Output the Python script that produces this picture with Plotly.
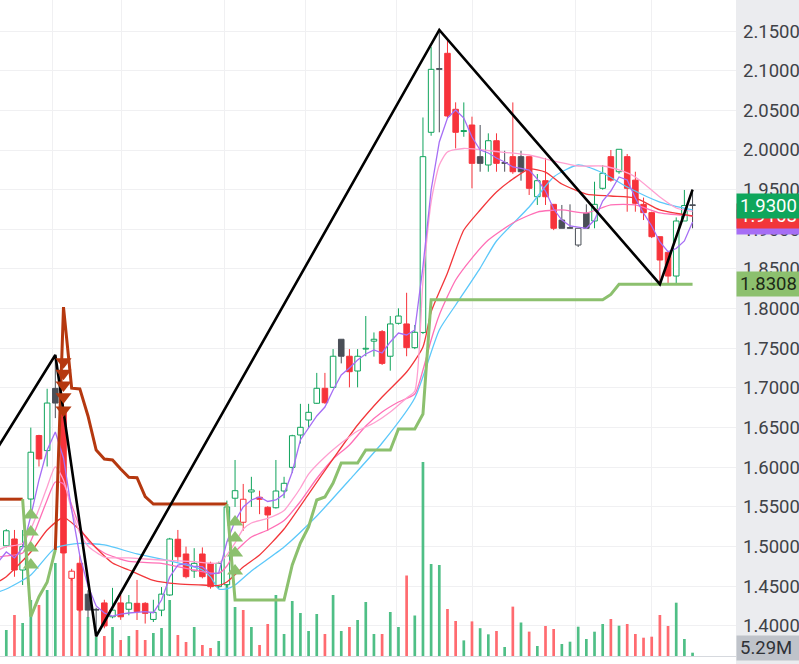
import plotly.graph_objects as go

# ---------------- data ----------------
opens = [1.501, 1.5096, 1.4705, 1.560, 1.640, 1.621, 1.6995, 1.672, 1.460, 1.479,
         1.440, 1.420, 1.429, 1.4115, 1.429, 1.421, 1.4285, 1.4285, 1.4082, 1.4199,
         1.439, 1.5093, 1.4907, 1.4693, 1.4907, 1.4789, 1.4495, 1.452, 1.561, 1.5307,
         1.5689, 1.5622, 1.5496, 1.549, 1.5701, 1.5999, 1.6407, 1.6596, 1.6807, 1.6996,
         1.7008, 1.7614, 1.740, 1.7214, 1.749, 1.759, 1.771, 1.740, 1.7815, 1.7807,
         1.7508, 1.770, 2.0223, 2.1017, 2.1219, 2.0513, 2.0233, 2.0315, 1.9916, 1.9811,
         2.0117, 1.9832, 1.9916, 1.9916, 1.9916, 1.9411, 1.9613, 1.9315, 1.9117, 1.9013,
         1.8802, 1.9202, 1.9105, 1.9517, 1.9916, 1.9726, 1.9916, 1.962, 1.9315, 1.921,
         1.8907, 1.871, 1.8411, 1.9105, 1.9300]
highs = [1.522, 1.521, 1.521, 1.650, 1.641, 1.699, 1.7416, 1.690, 1.472, 1.489,
         1.445, 1.423, 1.433, 1.448, 1.439, 1.439, 1.458, 1.430, 1.433, 1.449,
         1.511, 1.521, 1.500, 1.498, 1.499, 1.481, 1.481, 1.558, 1.6092, 1.579,
         1.588, 1.5705, 1.551, 1.6092, 1.588, 1.641, 1.680, 1.680, 1.719, 1.719,
         1.749, 1.7614, 1.749, 1.749, 1.7907, 1.770, 1.773, 1.7907, 1.8004, 1.820,
         1.7794, 2.041, 2.130, 2.1513, 2.1387, 2.0601, 2.060, 2.042, 2.0315, 2.021,
         2.021, 1.999, 2.060, 1.999, 1.9916, 1.9697, 1.990, 1.9315, 1.9307, 1.9315,
         1.9013, 1.9315, 1.960, 1.981, 2.000, 2.0009, 1.995, 1.9726, 1.940, 1.9222,
         1.8907, 1.871, 1.915, 1.9496, 1.950]
lows = [1.499, 1.462, 1.4516, 1.546, 1.601, 1.601, 1.662, 1.492, 1.457, 1.418,
        1.411, 1.387, 1.397, 1.4096, 1.4077, 1.4134, 1.4075, 1.403, 1.405, 1.4123,
        1.438, 1.481, 1.460, 1.4605, 1.460, 1.447, 1.447, 1.449, 1.550, 1.520,
        1.550, 1.5409, 1.520, 1.548, 1.561, 1.593, 1.630, 1.650, 1.680, 1.680,
        1.700, 1.731, 1.7008, 1.7008, 1.740, 1.7395, 1.729, 1.7218, 1.780, 1.740,
        1.749, 1.768, 2.018, 2.0223, 2.040, 2.002, 2.0167, 1.9517, 1.9726, 1.9726,
        1.9726, 1.9726, 1.970, 1.9613, 1.9433, 1.9307, 1.9307, 1.899, 1.9013, 1.9013,
        1.8777, 1.9013, 1.9013, 1.950, 1.960, 1.970, 1.9222, 1.9222, 1.9117, 1.889,
        1.8308, 1.832, 1.832, 1.9105, 1.9013]
closes = [1.520, 1.4705, 1.500, 1.619, 1.6105, 1.681, 1.681, 1.492, 1.469, 1.420,
          1.420, 1.420, 1.400, 1.4199, 1.4115, 1.429, 1.4181, 1.4159, 1.4172, 1.4401,
          1.5096, 1.4873, 1.4621, 1.4789, 1.4621, 1.4495, 1.4789, 1.550, 1.5705, 1.5597,
          1.5714, 1.5597, 1.5399, 1.5701, 1.5798, 1.6398, 1.6504, 1.6693, 1.6996, 1.6814,
          1.740, 1.740, 1.7205, 1.740, 1.750, 1.7614, 1.731, 1.7807, 1.7907, 1.7508,
          1.7702, 1.9916, 2.1017, 2.1017, 2.0429, 2.0223, 2.0245, 1.9832, 1.9832, 2.0117,
          1.9832, 1.9832, 1.9726, 1.9726, 1.9517, 1.9613, 1.9411, 1.9013, 1.9013, 1.9013,
          1.9013, 1.9013, 1.9315, 1.9706, 1.962, 2.0009, 1.9517, 1.9328, 1.921, 1.8907,
          1.8613, 1.8411, 1.9105, 1.9300, 1.9300]
volumes_m = [41.6, 65.6, 52.8, 89.6, 81.6, 105.6, 148.8, 228.8, 128.0, 97.6,
             62.4, 30.4, 32.0, 46.4, 25.6, 32.0, 41.6, 25.6, 36.8, 44.8,
             89.6, 33.6, 22.4, 46.4, 17.6, 12.8, 24.0, 118.4, 78.4, 73.6,
             46.4, 17.6, 51.2, 97.6, 35.2, 88.0, 68.8, 40.0, 67.2, 35.2,
             97.6, 40.0, 46.4, 57.6, 86.4, 35.2, 35.2, 70.4, 46.4, 128.8,
             64.8, 310.4, 147.2, 145.6, 75.2, 56.0, 25.0, 55.4, 44.5, 34.7,
             40.0, 14.4, 79.0, 53.6, 39.0, 16.0, 48.0, 43.2, 19.2, 22.9,
             46.9, 27.2, 38.9, 51.2, 59.2, 48.5, 51.2, 35.2, 29.3, 30.9,
             65.6, 48.0, 85.3, 27.2, 5.29]

# moving-average style lines (bar index, value)
ma_purple_x = list(range(-1, 85))
ma_purple = [1.4806, 1.4932, 1.4857, 1.4983, 1.5386, 1.5840, 1.6218, 1.6445, 1.6117, 1.5462,
             1.4882, 1.4504, 1.4252, 1.4163, 1.4125, 1.4150, 1.4163, 1.4167, 1.4180, 1.4167,
             1.4327, 1.4617, 1.4768, 1.4787, 1.4749, 1.4747, 1.4655, 1.4668, 1.5058, 1.5323,
             1.5500, 1.5588, 1.5626, 1.5569, 1.5588, 1.5663, 1.5941, 1.6344, 1.6495, 1.6647,
             1.6760, 1.6974, 1.7164, 1.7252, 1.7353, 1.7428, 1.7479, 1.7441, 1.7580, 1.7693,
             1.7668, 1.7731, 1.8530, 1.9496, 2.0101, 2.0403, 2.0504, 2.0403, 2.0164, 2.0000,
             1.9962, 1.9899, 1.9849, 1.9786, 1.9767, 1.9748, 1.9634, 1.9483, 1.9256, 1.9117,
             1.9042, 1.9029, 1.9013, 1.9117, 1.9357, 1.9483, 1.9660, 1.9622, 1.9395, 1.9206,
             1.9042, 1.8840, 1.8718, 1.8758, 1.8853, 1.9092]
ma_pinka_x = [-1, 0, 2, 3, 4, 5, 6, 7, 8, 9, 10, 12, 15, 19, 23, 26, 27, 28, 29, 30, 32, 34, 35,
              36, 37, 39, 41, 43, 45, 47, 49, 50, 51, 52, 53, 54, 56, 60, 64, 67, 70, 73, 75,
              77, 80, 82, 84]
ma_pinka = [1.4957, 1.4999, 1.5039, 1.5222, 1.5474, 1.5752, 1.6004, 1.5840, 1.5462, 1.5172,
            1.5008, 1.4869, 1.4857, 1.4831, 1.4810, 1.4794, 1.4895, 1.5046, 1.5222, 1.5298,
            1.5355, 1.5455, 1.5588, 1.5739, 1.5915, 1.6130, 1.6306, 1.6458, 1.6558, 1.6697,
            1.6874, 1.6962, 1.8349, 1.9344, 1.9811, 1.9975, 2.0019, 1.9981, 1.9937, 1.9861,
            1.9798, 1.9798, 1.9748, 1.9660, 1.9407, 1.9269, 1.9225]
ma_pinkb_x = [-1, 0, 2, 3, 5, 6, 7, 8, 9, 10, 12, 15, 19, 23, 26, 27, 28, 30, 32, 34, 36, 38,
              40, 42, 44, 46, 48, 50, 51, 52, 53, 55, 57, 59, 62, 65, 68, 71, 74, 77, 80, 84]
ma_pinkb = [1.4869, 1.4882, 1.4920, 1.5071, 1.5588, 1.5815, 1.5790, 1.5525, 1.5247, 1.5071,
            1.4920, 1.4813, 1.4790, 1.4705, 1.4664, 1.4756, 1.4932, 1.5121, 1.5210, 1.5329,
            1.5569, 1.5859, 1.6105, 1.6281, 1.6521, 1.6697, 1.6823, 1.6924, 1.7227, 1.7605,
            1.7920, 1.8361, 1.8638, 1.8865, 1.9080, 1.9218, 1.9244, 1.9206, 1.9307, 1.9307,
            1.9206, 1.9168]
ma_red_x = [-1, 0, 3, 5, 7, 9, 11, 13, 15, 18, 21, 24, 26, 27, 29, 31, 34, 37, 40, 43, 46, 49,
            51, 52, 54, 56, 58, 60, 62, 64, 66, 68, 71, 74, 77, 80, 84]
ma_red = [1.4554, 1.4621, 1.4932, 1.5210, 1.5365, 1.5210, 1.4983, 1.4794, 1.4705, 1.4573,
          1.4529, 1.4516, 1.4510, 1.4554, 1.4743, 1.4895, 1.5222, 1.5663, 1.6105, 1.6533,
          1.6886, 1.7201, 1.7517, 1.7958, 1.8449, 1.8991, 1.9244, 1.9470, 1.9634, 1.9760,
          1.9722, 1.9571, 1.9445, 1.9420, 1.9395, 1.9244, 1.9168]
ma_blue_x = [-1, 0, 3, 6, 9, 12, 16, 20, 24, 25, 26, 27, 28, 30, 34, 38, 42, 46, 50, 53, 55,
             58, 60, 64, 67, 70, 73, 76, 80, 84]
ma_blue = [1.4428, 1.4466, 1.4642, 1.4983, 1.5040, 1.5021, 1.4907, 1.4819, 1.4705, 1.4619,
           1.4466, 1.4466, 1.4516, 1.4693, 1.4995, 1.5386, 1.5840, 1.6306, 1.6874, 1.7731,
           1.8046, 1.8512, 1.8853, 1.9281, 1.9660, 1.9811, 1.9710, 1.9533, 1.9344, 1.9244]

# trailing stop lines
stop_down_x = [-1, 0, 1, 2, None, 6, 7, 8, 9, 10, 11, 12, 13, 14, 15, 16, 17, 18, 19, 20, 21,
               22, 23, 24, 25, 26, 27]
stop_down = [1.5598, 1.5598, 1.5598, 1.5598, None, 1.4958, 1.802, 1.6997, 1.6988, 1.6647,
             1.6218, 1.6105, 1.6092, 1.5979, 1.5874, 1.5869, 1.563, 1.5537, 1.5537, 1.5537,
             1.5537, 1.5537, 1.5537, 1.5537, 1.5537, 1.5537, 1.5537]
stop_up_x = [2, 3, 4, 5, 6, None] + list(range(27, 85))
stop_up = ([1.5598, 1.4117, 1.4369, 1.455, 1.4958, None]
           + [1.5537, 1.4328, 1.4328, 1.4328, 1.4328, 1.4328, 1.4328, 1.4328, 1.4768, 1.5046,
              1.5247, 1.5588, 1.5626, 1.5802, 1.6054, 1.6054, 1.6054, 1.6218, 1.6218, 1.6218,
              1.6218, 1.6483, 1.6483, 1.6483, 1.6672]
           + [1.8112] * 22 + [1.8179] + [1.8308] * 10)

# zigzag pivots
zig_x = [-6, 6, 11, 53, 80, 84]
zig_y = [1.5427, 1.7416, 1.387, 2.1513, 1.8308, 1.950]

# signal markers
buy_x = [3, 3, 3, 3, 28, 28, 28, 28]
buy_y = [1.5399, 1.5185, 1.4983, 1.4769, 1.5311, 1.5109, 1.4920, 1.4693]
sell_x = [7, 7, 7, 7, 7]
sell_y = [1.7331, 1.7185, 1.7038, 1.6890, 1.6723]

# x positions of the date grid lines (in bar units)
date_grid = [5.594, 14.16, 26.65, 36.68, 47.82, 57.12, 69.61, 79.03]
price_ticks = [1.40, 1.45, 1.50, 1.55, 1.60, 1.65, 1.70, 1.75, 1.80, 1.85, 1.90, 1.95,
               2.00, 2.05, 2.10, 2.15]

# ---------------- styling ----------------
UP, DOWN, FLAT = '#10a45c', '#f7333b', '#4a4f57'
VUP, VDOWN = '#4fbf86', '#ff6b70'
PURPLE, PINKA, PINKB, RED, BLUE = '#a66ef5', '#ff9fd0', '#ff6fb6', '#f2363a', '#5cc8fa'
STOP_DN, STOP_UP = '#b5380f', '#8cc06e'
FONT = 'Roboto'

n = len(closes)
xs = list(range(n))

cols, fills, vcols = [], [], []
for i in xs:
    if i == 0 or closes[i] > closes[i - 1]:
        c = UP
    elif closes[i] < closes[i - 1]:
        c = DOWN
    else:
        c = FLAT
    cols.append(c)
    fills.append('#ffffff' if closes[i] > opens[i] else c)
    vcols.append(VUP if (i == 0 or closes[i] >= closes[i - 1]) else VDOWN)

fig = go.Figure()

# volume (bottom layer, own axis)
fig.add_trace(go.Bar(x=xs, y=volumes_m, width=0.33, marker=dict(color=vcols, line=dict(width=0)),
                     xaxis='x', yaxis='y', hoverinfo='skip'))

# wicks, split so they do not cross hollow bodies
for col in (UP, DOWN, FLAT):
    wx, wy = [], []
    for i in xs:
        if cols[i] != col:
            continue
        lo, hi = min(opens[i], closes[i]), max(opens[i], closes[i])
        wx += [i, i, None, i, i, None]
        wy += [lows[i], lo, None, hi, highs[i], None]
    fig.add_trace(go.Scatter(x=wx, y=wy, mode='lines', line=dict(color=col, width=1),
                             xaxis='x', yaxis='y2', hoverinfo='skip'))

# bodies
base = [min(o, c) for o, c in zip(opens, closes)]
hgt = [max(abs(c - o), 0.0009) for o, c in zip(opens, closes)]
fig.add_trace(go.Bar(x=xs, y=hgt, base=base, width=0.68,
                     marker=dict(color=fills, line=dict(color=cols, width=1)),
                     xaxis='x', yaxis='y2', hoverinfo='skip'))

# MA lines
for lx, ly, c, shp in ((ma_blue_x, ma_blue, BLUE, 'spline'),
                       (ma_pinkb_x, ma_pinkb, PINKB, 'spline'),
                       (ma_red_x, ma_red, RED, 'spline'),
                       (ma_pinka_x, ma_pinka, PINKA, 'spline'),
                       (ma_purple_x, ma_purple, PURPLE, 'linear')):
    fig.add_trace(go.Scatter(x=lx, y=ly, mode='lines',
                             line=dict(color=c, width=1.3, shape=shp, smoothing=0.6),
                             xaxis='x', yaxis='y2', hoverinfo='skip'))

# trailing stops
fig.add_trace(go.Scatter(x=stop_down_x, y=stop_down, mode='lines', line=dict(color=STOP_DN, width=3),
                         xaxis='x', yaxis='y2', hoverinfo='skip'))
fig.add_trace(go.Scatter(x=stop_up_x, y=stop_up, mode='lines', line=dict(color=STOP_UP, width=3),
                         xaxis='x', yaxis='y2', hoverinfo='skip'))

# zigzag
fig.add_trace(go.Scatter(x=zig_x, y=zig_y, mode='lines', line=dict(color='#000000', width=2.6),
                         xaxis='x', yaxis='y2', hoverinfo='skip'))

# signals
fig.add_trace(go.Scatter(x=buy_x, y=buy_y, mode='markers',
                         marker=dict(symbol='triangle-up', size=14, color=STOP_UP),
                         xaxis='x', yaxis='y2', hoverinfo='skip'))
fig.add_trace(go.Scatter(x=sell_x, y=sell_y, mode='markers',
                         marker=dict(symbol='triangle-down', size=14, color=STOP_DN),
                         xaxis='x', yaxis='y2', hoverinfo='skip'))

XR = 736 / 799
fig.update_layout(
    width=799, height=664, margin=dict(l=0, r=0, t=0, b=8),
    paper_bgcolor='#ffffff', plot_bgcolor='#ffffff', showlegend=False, barmode='overlay',
    xaxis=dict(domain=[0, XR], range=[-0.771, 89.317], tickvals=date_grid, showticklabels=False,
               showgrid=True, gridcolor='#f0f0f2', gridwidth=1, zeroline=False, ticks='',
               showline=True, linecolor='#d6d9de', automargin=False),
    yaxis=dict(range=[0, 1049.6], visible=False, showgrid=False, zeroline=False, automargin=False),
    yaxis2=dict(overlaying='y', side='right', anchor='x', range=[1.3621, 2.1891],
                tickvals=price_ticks, ticktext=['%.4f' % t for t in price_ticks],
                showgrid=True, gridcolor='#f0f0f2', zeroline=False, ticks='',
                tickfont=dict(family=FONT, size=18.5, color='#3f4247'), ticklabelstandoff=6,
                automargin=False),
    shapes=[dict(type='rect', xref='paper', yref='paper', x0=XR, x1=1.0, y0=-8 / 656, y1=1.0,
                 fillcolor='#ebecef', line=dict(width=0), layer='below')],
)

def tag(yv, text, bg, fg, yref='y2'):
    return dict(xref='paper', x=XR, xanchor='left', yref=yref, y=yv, yanchor='middle',
                text=text, showarrow=False, bgcolor=bg, align='left', width=58, height=18,
                borderpad=3, font=dict(family=FONT, size=18.5, color=fg))

anns = [
    tag(ma_purple[-1], '%.4f' % ma_purple[-1], PURPLE, '#ffffff'),
    tag(ma_red[-1], '%.4f' % ma_red[-1], RED, '#ffffff'),
    tag(closes[-1], '%.4f' % closes[-1], '#0ea65c', '#ffffff'),
    tag(stop_up[-1], '%.4f' % stop_up[-1], STOP_UP, '#1d2a18'),
    tag(8 / 656, '%.2fM' % volumes_m[-1], '#bfc3ca', '#2f3237', yref='paper'),
]
fig.update_layout(annotations=anns)

fig.write_html('out.html')
